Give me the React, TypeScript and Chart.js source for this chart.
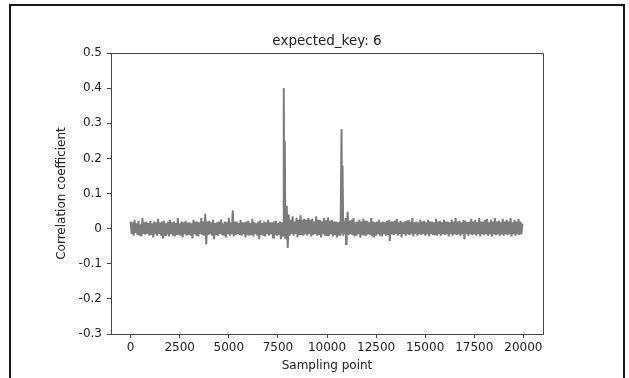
import { useEffect, useRef } from "react";
import { Chart, registerables } from "chart.js";

Chart.register(...registerables);

const chartTitle = "expected_key: 6";
const xAxisTitle = "Sampling point";
const yAxisTitle = "Correlation coefficient";

const xTickValues = [0, 2500, 5000, 7500, 10000, 12500, 15000, 17500, 20000];
const xTickLabels = ["0", "2500", "5000", "7500", "10000", "12500", "15000", "17500", "20000"];
const yTickValues = [-0.3, -0.2, -0.1, 0, 0.1, 0.2, 0.3, 0.4, 0.5];
const yTickLabels = ["-0.3", "-0.2", "-0.1", "0", "0.1", "0.2", "0.3", "0.4", "0.5"];

// background correlation, one value every 50 sampling points (null = covered by the peak samples)
const noiseStep = 50;
const noiseValues: (number | null)[] = [
  0.02, -0.015, 0.018, -0.02, 0.025, -0.012, 0.015, -0.018, 0.022, -0.02, 0.012, -0.022, 0.03, -0.015, 0.018, -0.017, 0.02, -0.014, 0.016, -0.02,
  0.022, -0.018, 0.015, -0.025, 0.02, -0.016, 0.018, -0.02, 0.028, -0.015, 0.017, -0.02, 0.02, -0.028, 0.022, -0.018, 0.015, -0.016, 0.02, -0.022,
  0.025, -0.015, 0.018, -0.02, 0.02, -0.022, 0.016, -0.018, 0.03, -0.017, 0.015, -0.02, 0.02, -0.025, 0.018, -0.016, 0.022, -0.02, 0.017, -0.018,
  0.018, -0.02, 0.015, -0.028, 0.025, -0.016, 0.02, -0.02, 0.02, -0.022, 0.018, -0.015, 0.03, -0.018, 0.02, -0.02, 0.042, -0.045, 0.02, -0.018,
  0.022, -0.016, 0.018, -0.02, 0.025, -0.03, 0.016, -0.018, 0.018, -0.02, 0.02, -0.015, 0.026, -0.018, 0.015, -0.02, 0.02, -0.025, 0.018, -0.016,
  0.03, -0.02, 0.018, -0.016, 0.052, -0.022, 0.02, -0.018, 0.02, -0.015, 0.016, -0.018, 0.025, -0.02, 0.018, -0.016, 0.018, -0.025, 0.02, -0.018,
  0.022, -0.02, 0.016, -0.018, 0.028, -0.022, 0.018, -0.016, 0.015, -0.02, 0.02, -0.03, 0.024, -0.018, 0.016, -0.02, 0.02, -0.022, 0.018, -0.016,
  0.025, -0.02, 0.018, -0.016, 0.018, -0.025, 0.02, -0.018, 0.022, -0.02, 0.016, -0.018, 0.02, -0.03, 0.018, null, null, null, null, null,
  null, 0.04, -0.02, 0.025, -0.015, 0.035, -0.02, 0.02, -0.015, 0.03, -0.025, 0.025, -0.018, 0.038, -0.018, 0.025, -0.02, 0.028, -0.016, 0.025,
  -0.02, 0.03, -0.015, 0.025, -0.022, 0.028, -0.018, 0.02, -0.015, 0.035, -0.02, 0.025, -0.018, 0.025, -0.025, 0.02, -0.016, 0.03, -0.02, 0.024,
  -0.018, 0.032, -0.02, 0.022, -0.016, 0.025, -0.022, 0.02, -0.018, 0.02, -0.025, 0.018, -0.02, null, null, null, null, null, null, null,
  -0.02, 0.048, -0.018, 0.022, -0.016, 0.025, -0.018, 0.03, -0.022, 0.018, -0.02, 0.02, -0.016, 0.025, -0.025, 0.02, -0.018, 0.028, -0.02, 0.022,
  -0.02, 0.022, -0.016, 0.018, -0.018, 0.03, -0.022, 0.02, -0.025, 0.018, -0.02, 0.02, -0.016, 0.025, -0.02, 0.018, -0.022, 0.02, -0.016, 0.018,
  -0.02, 0.022, -0.018, 0.025, -0.035, 0.02, -0.016, 0.02, -0.018, 0.022, -0.015, 0.028, -0.02, 0.018, -0.016, 0.022, -0.025, 0.018, -0.016, 0.02,
  -0.02, 0.022, -0.016, 0.025, -0.018, 0.02, -0.016, 0.03, -0.022, 0.018, -0.015, 0.02, -0.02, 0.018, -0.016, 0.025, -0.018, 0.02, -0.016, 0.022,
  -0.02, 0.018, -0.016, 0.025, -0.022, 0.02, -0.016, 0.02, -0.018, 0.018, -0.015, 0.028, -0.02, 0.02, -0.016, 0.022, -0.02, 0.018, -0.016, 0.025,
  -0.018, 0.02, -0.016, 0.02, -0.022, 0.018, -0.016, 0.025, -0.02, 0.02, -0.016, 0.03, -0.018, 0.02, -0.016, 0.022, -0.02, 0.018, -0.016, 0.025,
  -0.03, 0.022, -0.016, 0.018, -0.02, 0.02, -0.016, 0.028, -0.018, 0.02, -0.016, 0.025, -0.02, 0.018, -0.016, 0.03, -0.022, 0.02, -0.016, 0.02,
  -0.018, 0.025, -0.016, 0.028, -0.02, 0.018, -0.016, 0.025, -0.022, 0.02, -0.016, 0.03, -0.018, 0.02, -0.016, 0.022, -0.02, 0.018, -0.016, 0.028,
  -0.02, 0.02, -0.016, 0.025, -0.018, 0.02, -0.016, 0.03, -0.022, 0.018, -0.016, 0.025, -0.02, 0.02, -0.016, 0.028, -0.018, 0.02, -0.016, 0.015,
];

// samples around the two correlation peaks
const peakX = [7760, 7790, 7805, 7830, 7850, 7880, 7920, 7950, 8000, 10650, 10690, 10740, 10770, 10790, 10830, 10870, 10910, 10950, 10975];
const peakY = [-0.02, 0.015, 0.4, -0.01, 0.25, -0.03, 0.02, 0.065, -0.055, 0.02, -0.02, 0.283, -0.01, 0.18, -0.02, 0.02, -0.015, 0.03, -0.044];

const FONT = "'DejaVu Sans', sans-serif";
const TEXT = "#222";
const AXIS = "#444";

export default function App() {
  const ref = useRef<HTMLCanvasElement>(null);

  useEffect(() => {
    if (!ref.current) return;
    const pts: { x: number; y: number }[] = [];
    noiseValues.forEach((v, i) => {
      if (v !== null) pts.push({ x: i * noiseStep, y: v });
    });
    peakX.forEach((x, i) => pts.push({ x, y: peakY[i] }));
    pts.sort((a, b) => a.x - b.x);

    const align = (p: number) => Math.round(p - 0.5) + 0.5;

    const framePlugin = {
      id: "frame",
      afterDatasetsDraw(chart: any) {
        const { ctx, chartArea } = chart;
        ctx.save();
        ctx.strokeStyle = AXIS;
        ctx.lineWidth = 1;
        ctx.beginPath();
        const t = align(chartArea.top);
        const r = align(chartArea.right);
        ctx.moveTo(align(chartArea.left), t);
        ctx.lineTo(r, t);
        ctx.lineTo(r, align(chartArea.bottom));
        ctx.stroke();
        ctx.restore();
      },
    };

    const titlePlugin = {
      id: "figTitle",
      afterDraw(chart: any) {
        const { ctx, chartArea } = chart;
        ctx.save();
        ctx.fillStyle = TEXT;
        ctx.font = `13.5px ${FONT}`;
        ctx.textAlign = "center";
        ctx.textBaseline = "middle";
        ctx.fillText(chartTitle, (chartArea.left + chartArea.right) / 2, 41);
        ctx.restore();
      },
    };

    const chart = new Chart(ref.current, {
      type: "line",
      data: {
        datasets: [
          {
            data: pts,
            borderColor: "#7c7c7c",
            borderWidth: 2,
            pointRadius: 0,
            tension: 0,
            fill: false,
          },
        ],
      },
      options: {
        responsive: false,
        animation: false,
        devicePixelRatio: 1,
        layout: { padding: { left: 55, right: 86, top: 53, bottom: 5 } },
        plugins: {
          legend: { display: false },
          tooltip: { enabled: false },
          title: { display: false },
        },
        scales: {
          x: {
            type: "linear",
            min: -1000,
            max: 21000,
            afterBuildTicks: (s: any) => {
              s.ticks = xTickValues.map((v) => ({ value: v }));
            },
            afterFit: (s: any) => {
              s.height = 39;
            },
            ticks: {
              autoSkip: false,
              maxRotation: 0,
              padding: 3,
              color: TEXT,
              font: { family: FONT, size: 12 },
              callback: (v: any) => {
                const i = xTickValues.indexOf(Number(v));
                return i >= 0 ? xTickLabels[i] : "";
              },
            },
            grid: { display: true, drawOnChartArea: false, tickLength: 4, color: AXIS },
            border: { display: true, color: AXIS, width: 1 },
            title: {
              display: true,
              text: xAxisTitle,
              color: TEXT,
              font: { family: FONT, size: 12 },
              padding: 0,
            },
          },
          y: {
            type: "linear",
            min: -0.3,
            max: 0.5,
            afterBuildTicks: (s: any) => {
              s.ticks = yTickValues.map((v) => ({ value: v }));
            },
            afterFit: (s: any) => {
              s.width = 56;
            },
            ticks: {
              autoSkip: false,
              padding: 5,
              color: TEXT,
              font: { family: FONT, size: 12 },
              callback: (v: any) => {
                const i = yTickValues.findIndex((t) => Math.abs(t - Number(v)) < 1e-9);
                return i >= 0 ? yTickLabels[i] : "";
              },
            },
            grid: { display: true, drawOnChartArea: false, tickLength: 4, color: AXIS },
            border: { display: true, color: AXIS, width: 1 },
            title: {
              display: true,
              text: yAxisTitle,
              color: TEXT,
              font: { family: FONT, size: 12 },
              padding: 0,
            },
          },
        },
      },
      plugins: [framePlugin, titlePlugin],
    } as any);

    return () => chart.destroy();
  }, []);

  return (
    <div
      style={{
        position: "fixed",
        left: 0,
        top: 0,
        width: 629,
        height: 378,
        overflow: "hidden",
        background: "#fff",
      }}
    >
      <canvas
        ref={ref}
        width={629}
        height={378}
        style={{ position: "absolute", left: 0, top: 0, width: 629, height: 378, display: "block" }}
      />
      <div
        style={{
          position: "absolute",
          left: 9,
          top: 4,
          width: 616,
          height: 420,
          boxSizing: "border-box",
          border: "2px solid #1a1a1a",
          pointerEvents: "none",
        }}
      />
    </div>
  );
}
